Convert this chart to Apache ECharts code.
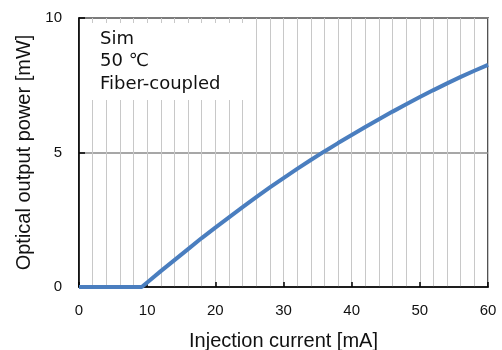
<!DOCTYPE html>
<html>
<head>
<meta charset="utf-8">
<script src="https://cdn.jsdelivr.net/npm/echarts@6/dist/echarts.min.js"></script>
<style>
  html, body { margin: 0; padding: 0; background: #fff; }
  #chart { width: 502px; height: 350px; }
</style>
</head>
<body>
<div id="chart"></div>
<script>
// L-I curve: injection current (mA) vs. fiber-coupled optical output power (mW)
const currentMA = [0, 2, 4, 6, 8, 9.2, 10, 12, 14, 16, 18, 20, 22, 24, 26, 28, 30,
                   32, 34, 36, 38, 40, 42, 44, 46, 48, 50, 52, 54, 56, 58, 60];
const powerMW   = [0, 0, 0, 0, 0, 0, 0.17, 0.59, 1.00, 1.41, 1.82, 2.21, 2.59, 2.97, 3.34, 3.70, 4.05,
                   4.39, 4.72, 5.04, 5.35, 5.65, 5.95, 6.24, 6.52, 6.79, 7.06, 7.32, 7.57, 7.81, 8.04, 8.26];

const xTickValues = [0, 10, 20, 30, 40, 50, 60];
const yTickValues = [0, 5, 10];
const xGridStep = 2;

const xTitle = 'Injection current [mA]';
const yTitle = 'Optical output power [mW]';
const noteLines = ['Sim', '50 ℃', 'Fiber-coupled'];

// white panel behind the note (data units)
const noteBoxX = [0.2, 25];
const noteBoxY = [6.95, 9.81];

const tickFont = '"Liberation Sans Narrow", "Liberation Sans", Arial, sans-serif';
const titleFont = '"Liberation Sans", Arial, sans-serif';

const xMin = xTickValues[0], xMax = xTickValues[xTickValues.length - 1];
const yMin = yTickValues[0], yMax = yTickValues[yTickValues.length - 1];

const chart = echarts.init(document.getElementById('chart'), null, { renderer: 'canvas' });

chart.setOption({
  animation: false,
  backgroundColor: '#fff',
  grid: {
    left: 79, right: 14, top: 18, bottom: 63,
    containLabel: false, outerBoundsMode: 'none',
    show: true, borderColor: '#1a1a1a', borderWidth: 1.5, backgroundColor: 'transparent'
  },
  xAxis: [
    {
      type: 'value', min: xMin, max: xMax, interval: xTickValues[1] - xTickValues[0],
      axisLine: { show: true, onZero: false, lineStyle: { color: '#000', width: 1.5 } },
      axisTick: { show: true, inside: true, length: 5, lineStyle: { color: '#000', width: 1.5 } },
      axisLabel: { margin: 16, color: '#111', fontSize: 15, fontFamily: tickFont },
      splitLine: { show: false },
      name: xTitle, nameLocation: 'middle', nameGap: 44,
      nameTextStyle: { color: '#111', fontSize: 20, fontFamily: titleFont }
    },
    {
      // fine vertical grid every 2 mA
      type: 'value', min: xMin, max: xMax, interval: xGridStep, position: 'bottom',
      axisLine: { show: false }, axisTick: { show: false }, axisLabel: { show: false },
      splitLine: { show: true, lineStyle: { color: '#c8c8c8', width: 1 } }
    }
  ],
  yAxis: {
    type: 'value', min: yMin, max: yMax, interval: yTickValues[1] - yTickValues[0],
    axisLine: { show: true, onZero: false, lineStyle: { color: '#000', width: 1.5 } },
    axisTick: { show: true, inside: true, length: 6, lineStyle: { color: '#000', width: 1.5 } },
    axisLabel: { margin: 17, color: '#111', fontSize: 15, fontFamily: tickFont },
    splitLine: { show: true, lineStyle: { color: '#8a8a8a', width: 1.5 } },
    name: yTitle, nameLocation: 'middle', nameGap: 43,
    nameTextStyle: { color: '#111', fontSize: 20, fontFamily: titleFont }
  },
  series: [{
    type: 'line',
    xAxisIndex: 0,
    data: currentMA.map((c, i) => [c, powerMW[i]]),
    showSymbol: false,
    smooth: false,
    lineStyle: { color: '#4a7ebf', width: 4 },
    itemStyle: { color: '#4a7ebf' },
    markArea: {
      silent: true,
      itemStyle: { color: '#ffffff', borderWidth: 0 },
      label: { show: false },
      data: [[{ xAxis: noteBoxX[0], yAxis: noteBoxY[0] }, { xAxis: noteBoxX[1], yAxis: noteBoxY[1] }]]
    }
  }],
  graphic: [{
    type: 'text', left: 100, top: 28, z: 100,
    style: {
      text: noteLines.join('\n'),
      fill: '#111',
      font: '18px "DejaVu Sans", "Noto Sans CJK JP", sans-serif',
      lineHeight: 22.5
    }
  }]
});
</script>
</body>
</html>
